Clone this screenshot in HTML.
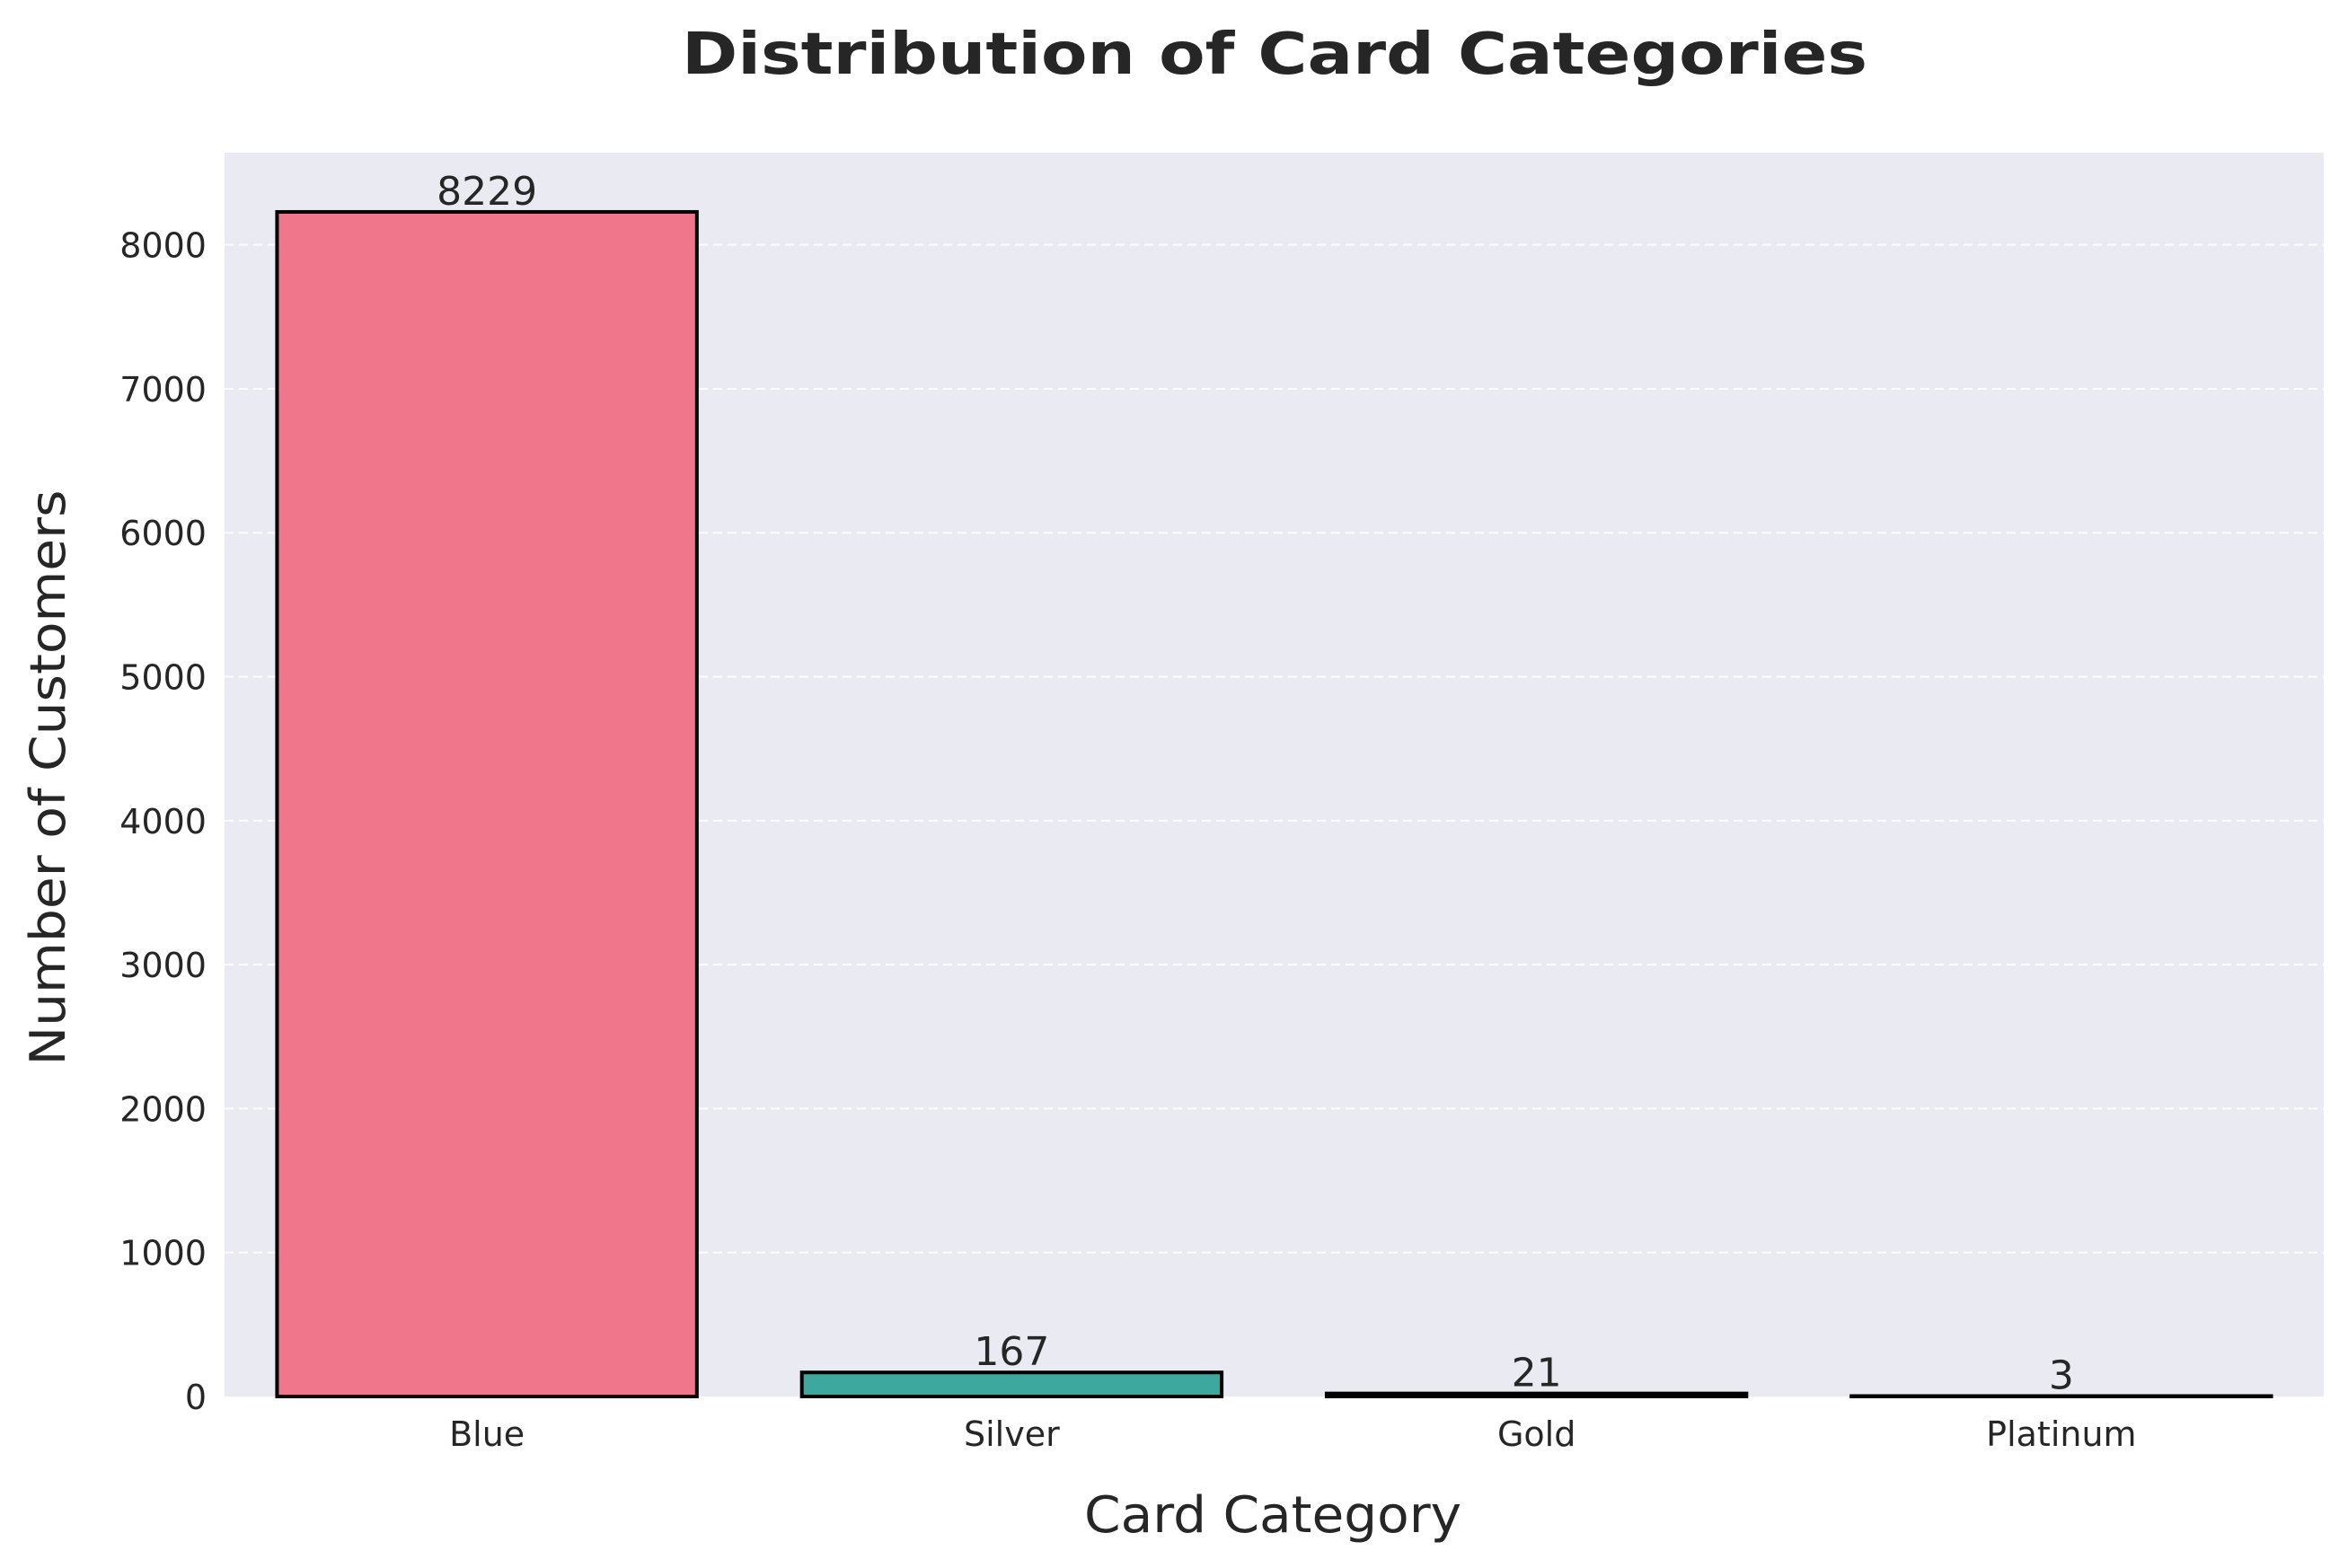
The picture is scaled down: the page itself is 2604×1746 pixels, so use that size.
<!DOCTYPE html>
<html><head><meta charset="utf-8"><style>
html,body{margin:0;padding:0;background:#fff;}
svg text{font-family:"DejaVu Sans","Liberation Sans",sans-serif;fill:#262626;}
</style></head><body>
<svg id="chart" width="2604" height="1741" xmlns="http://www.w3.org/2000/svg">
<text x="1419" y="82" text-anchor="middle" font-size="64" font-weight="bold" textLength="1320" lengthAdjust="spacingAndGlyphs">Distribution of Card Categories</text>
<rect x="250" y="170" width="2337" height="1385" fill="#eaeaf2"/>
<g id="grid"></g><g id="bars"></g><g id="yticks"></g><g id="xticks"></g>
<text transform="translate(72,866) rotate(-90)" text-anchor="middle" font-size="54" textLength="641" lengthAdjust="spacingAndGlyphs">Number of Customers</text>
<text x="1417" y="1706" text-anchor="middle" font-size="56" textLength="420" lengthAdjust="spacingAndGlyphs">Card Category</text>
</svg>
<script>
const categories = ["Blue","Silver","Gold","Platinum"];
const counts = [8229,167,21,3];
const colors = ["#f0778b","#3da89e","#f3c969","#bfbfbf"];
const yTicks = [0,1000,2000,3000,4000,5000,6000,7000,8000];
const NS="http://www.w3.org/2000/svg";
const L=250,R=2587,T=170,B=1555;
const ymax=Math.max(...counts)*1.05;
const y=v=>B-(v/ymax)*(B-T);
const step=(R-L)/categories.length;
const xc=i=>L+step*(i+0.5);
function mk(tag,attrs,parent,txt){const e=document.createElementNS(NS,tag);for(const k in attrs)e.setAttribute(k,attrs[k]);if(txt!==undefined)e.textContent=txt;document.getElementById(parent).appendChild(e);return e;}
yTicks.forEach(t=>{
  if(t>0){const g=mk('line',{x1:L,x2:R,y1:y(t),y2:y(t),stroke:'#ffffff','stroke-width':2,'stroke-dasharray':'10,6',opacity:0.9},'grid');
  
  }
  const tx=mk('text',{x:230,y:y(t)+14,'text-anchor':'end','font-size':38},'yticks',String(t));
  
  
});
categories.forEach((c,i)=>{
  const w=step*0.8,x0=xc(i)-w/2,top=y(counts[i]);
  const r=mk('rect',{x:x0,y:top,width:w,height:B-top,fill:colors[i],stroke:'#000','stroke-width':4},'bars');
  
  
  const v=mk('text',{x:xc(i),y:top-8,'text-anchor':'middle','font-size':44},'bars',String(counts[i]));
  
  
  const l=mk('text',{x:xc(i),y:1610,'text-anchor':'middle','font-size':38},'xticks',c);
  
  
});
</script>
</body></html>
